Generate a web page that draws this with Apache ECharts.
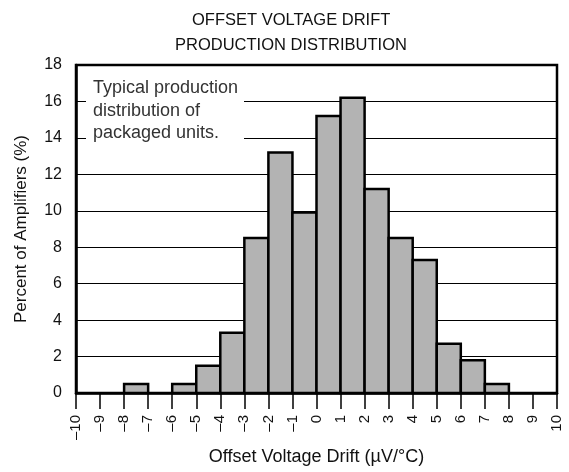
<!DOCTYPE html>
<html>
<head>
<meta charset="utf-8">
<script src="https://cdn.jsdelivr.net/npm/echarts@6/dist/echarts.min.js"></script>
<style>
  html, body { margin: 0; padding: 0; background: #fff; }
  #chart-container { width: 569px; height: 472px; }
</style>
</head>
<body>
<div id="chart-container"></div>
<script>
// histogram bins (µV/°C) and share of amplifiers (%)
var binStart = [-8, -6, -5, -4, -3, -2, -1, 0, 1, 2, 3, 4, 5, 6, 7];
var binEnd   = [-7, -5, -4, -3, -2, -1, 0, 1, 2, 3, 4, 5, 6, 7, 8];
var percent  = [0.5, 0.5, 1.5, 3.3, 8.5, 13.2, 9.9, 15.2, 16.2, 11.2, 8.5, 7.3, 2.7, 1.8, 0.5];

var titleLines = ['OFFSET VOLTAGE DRIFT', 'PRODUCTION DISTRIBUTION'];
var noteLines = ['Typical production', 'distribution of', 'packaged units.'];

var dom = document.getElementById('chart-container');
var myChart = echarts.init(dom, null, { renderer: 'canvas' });

var font = 'Liberation Sans, Arial, sans-serif';

var bins = binStart.map(function (s, i) {
  return [s, binEnd[i], percent[i]];
});

var option = {
  animation: false,
  backgroundColor: '#fff',
  textStyle: { fontFamily: font },
  grid: {
    left: 76, right: 12, top: 65, bottom: 79,
    show: true, borderColor: '#000', borderWidth: 2.5
  },
  graphic: [
    {
      type: 'text', left: 192, top: 12,
      style: { text: titleLines[0], font: '16.5px ' + font, fill: '#111' }
    },
    {
      type: 'text', left: 175, top: 37,
      style: { text: titleLines[1], font: '16.5px ' + font, fill: '#111' }
    },
    {
      type: 'rect', z: 5,
      shape: { x: 86, y: 78, width: 158, height: 66 },
      style: { fill: '#fff' }
    },
    {
      type: 'text', z: 6, left: 93, top: 77,
      style: {
        text: noteLines.join('\n'), font: '18px ' + font, fill: '#333',
        lineHeight: 22.5
      }
    }
  ],
  xAxis: {
    type: 'value', min: -10, max: 10, interval: 1,
    name: 'Offset Voltage Drift (\u00b5V/\u00b0C)',
    nameLocation: 'middle', nameGap: 54,
    nameTextStyle: { fontSize: 18, color: '#111', fontFamily: font },
    axisLine: { lineStyle: { color: '#000', width: 2.5 } },
    axisTick: { show: true, inside: false, length: 16, lineStyle: { color: '#000', width: 1.5 } },
    splitLine: { show: false },
    axisLabel: {
      rotate: 90, margin: 22, fontSize: 15, color: '#111', fontFamily: font,
      formatter: function (v) { return v < 0 ? '\u2013' + Math.abs(v) : String(v); }
    }
  },
  yAxis: {
    type: 'value', min: 0, max: 18, interval: 2,
    name: 'Percent of Amplifiers (%)',
    nameLocation: 'middle', nameGap: 46,
    nameTextStyle: { fontSize: 17, color: '#111', fontFamily: font },
    axisLine: { show: true, onZero: false, lineStyle: { color: '#000', width: 2.5 } },
    axisTick: { show: true, inside: true, length: 10, lineStyle: { color: '#000', width: 1 } },
    splitLine: { show: true, lineStyle: { color: '#000', width: 1 } },
    axisLabel: { margin: 14, fontSize: 16, color: '#111', fontFamily: font }
  },
  series: [
    {
      type: 'custom',
      data: bins,
      encode: { x: [0, 1], y: 2 },
      renderItem: function (params, api) {
        var topLeft = api.coord([api.value(0), api.value(2)]);
        var bottomRight = api.coord([api.value(1), 0]);
        return {
          type: 'rect',
          shape: {
            x: topLeft[0], y: topLeft[1],
            width: bottomRight[0] - topLeft[0],
            height: bottomRight[1] - topLeft[1]
          },
          style: { fill: '#b3b3b3', stroke: '#000', lineWidth: 2.5 }
        };
      }
    }
  ]
};

myChart.setOption(option);
window.addEventListener('resize', myChart.resize);
</script>
</body>
</html>
